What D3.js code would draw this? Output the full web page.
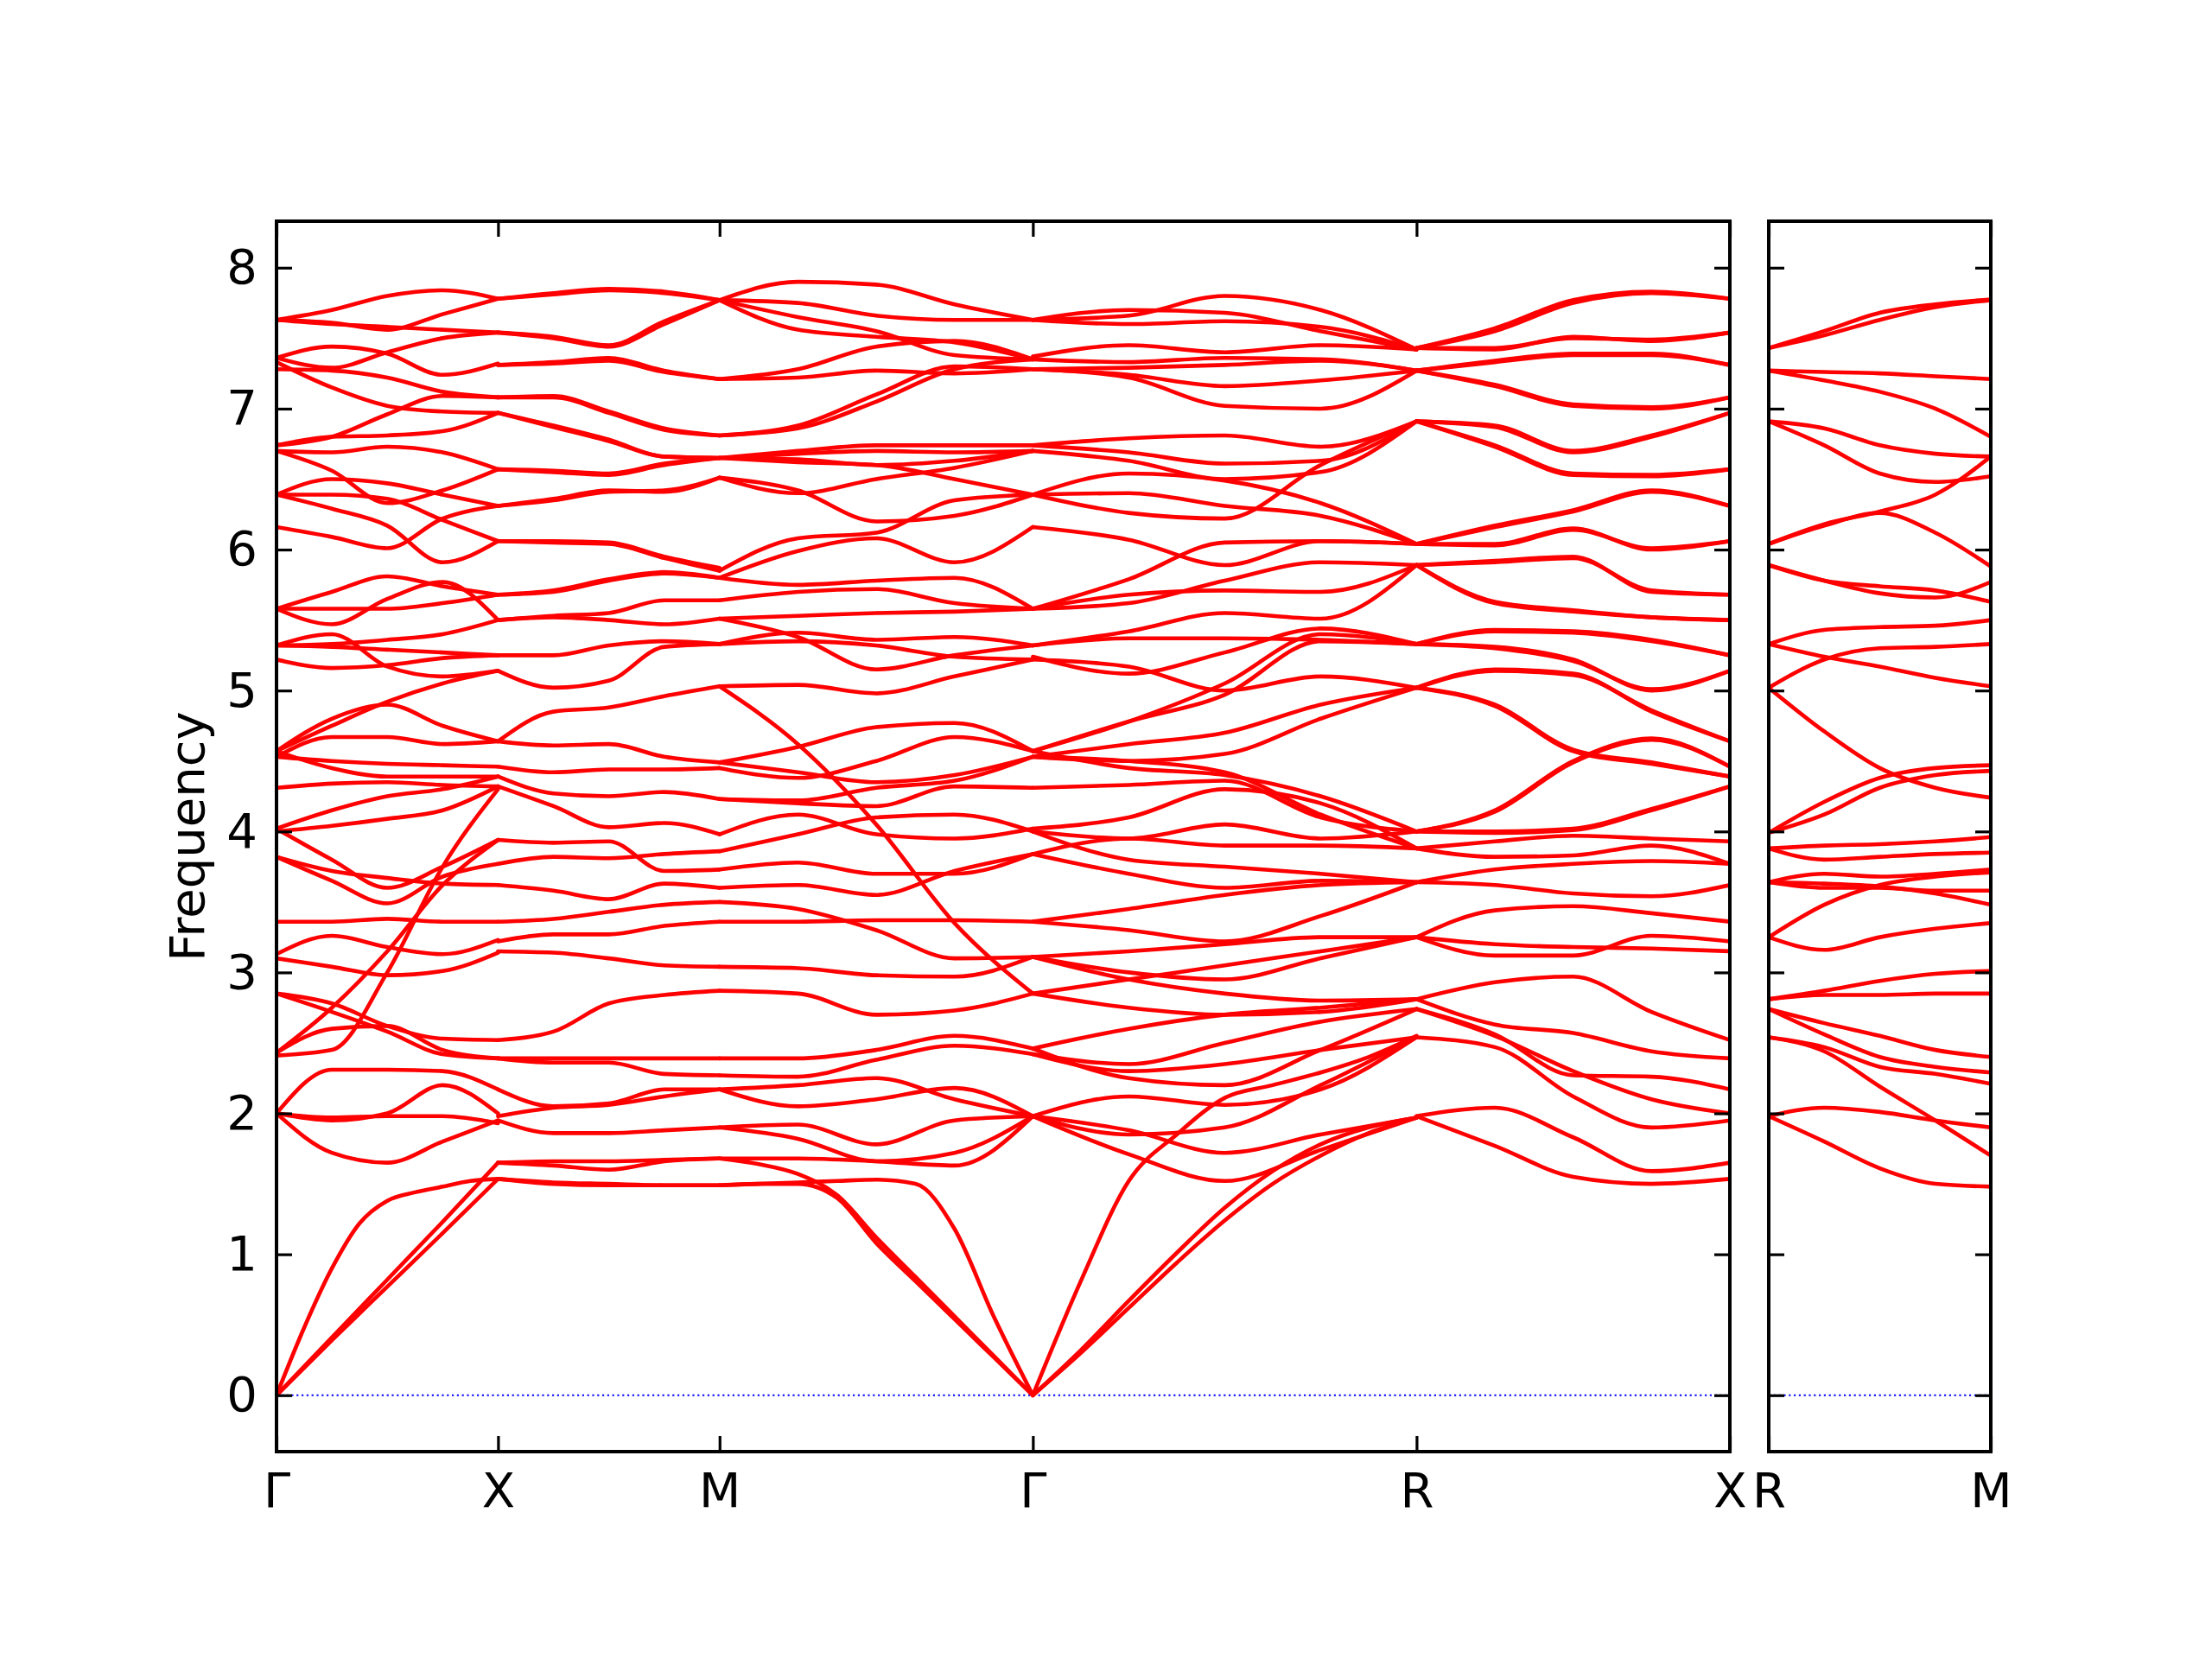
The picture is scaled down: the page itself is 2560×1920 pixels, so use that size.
<!DOCTYPE html>
<html><head><meta charset="utf-8">
<script src="https://cdn.jsdelivr.net/npm/d3@7"></script>
<style>body{margin:0;background:#fff} svg{display:block}</style>
</head><body>
<svg id="chart" width="2560" height="1920"></svg>
<script>
// ---------- DATA ----------
// high-symmetry path (cumulative k-distance) and labels
const mainLabels = ["Γ", "X", "M", "Γ", "R", "X"];
const mainDist = [0, 0.5, 1.0, 1.7071, 2.5731, 3.2802];
const sideLabels = ["R", "M"];
const sideDist = [0, 0.5];
const yTicks = [0, 1, 2, 3, 4, 5, 6, 7, 8];
const yLabel = "Frequency";
// each band: frequencies at evenly spaced k-points along the segment
const bandsGX = [
 [7.63, 7.70, 7.80, 7.84, 7.78],
 [7.63, 7.61, 7.56, 7.67, 7.78],
 [7.63, 7.60, 7.58, 7.56, 7.54],
 [7.36, 7.44, 7.39, 7.24, 7.32],
 [7.36, 7.29, 7.40, 7.50, 7.54],
 [7.28, 7.27, 7.22, 7.12, 7.08],
 [7.33, 7.15, 7.02, 6.98, 6.97],
 [6.74, 6.80, 6.96, 7.09, 7.08],
 [6.74, 6.80, 6.81, 6.84, 6.97],
 [6.70, 6.69, 6.73, 6.69, 6.57],
 [6.70, 6.56, 6.33, 6.42, 6.57],
 [6.39, 6.50, 6.47, 6.39, 6.31],
 [6.39, 6.39, 6.36, 6.21, 6.06],
 [6.39, 6.29, 6.17, 5.91, 6.06],
 [6.16, 6.09, 6.01, 6.22, 6.31],
 [5.58, 5.70, 5.81, 5.74, 5.68],
 [5.58, 5.58, 5.58, 5.62, 5.68],
 [5.58, 5.47, 5.65, 5.77, 5.50],
 [5.32, 5.40, 5.17, 5.10, 5.14],
 [5.32, 5.33, 5.36, 5.40, 5.50],
 [5.32, 5.31, 5.29, 5.27, 5.25],
 [5.22, 5.16, 5.18, 5.23, 5.25],
 [4.57, 4.75, 4.92, 5.05, 5.14],
 [4.57, 4.80, 4.90, 4.75, 4.64],
 [4.53, 4.67, 4.67, 4.62, 4.64],
 [4.53, 4.50, 4.48, 4.47, 4.46],
 [4.57, 4.45, 4.39, 4.39, 4.39],
 [4.31, 4.34, 4.35, 4.33, 4.32],
 [4.02, 4.15, 4.25, 4.30, 4.39],
 [4.00, 4.04, 4.09, 4.15, 4.32],
 [4.02, 3.80, 3.60, 3.75, 3.94],
 [3.82, 3.65, 3.49, 3.68, 3.77],
 [3.82, 3.72, 3.67, 3.63, 3.62],
 [3.36, 3.36, 3.38, 3.36, 3.36],
 [3.13, 3.26, 3.18, 3.13, 3.23],
 [3.10, 3.04, 2.98, 3.01, 3.14],
 [2.85, 2.78, 2.62, 2.53, 2.52],
 [2.85, 2.72, 2.58, 2.42, 2.39],
 [2.43, 2.75, 3.15, 3.62, 3.94],
 [2.41, 2.45, 3.00, 3.75, 4.30],
 [2.43, 2.60, 2.62, 2.45, 2.39],
 [2.00, 2.31, 2.31, 2.30, 2.17],
 [2.00, 1.95, 2.00, 2.20, 2.00],
 [2.00, 1.97, 1.98, 1.98, 1.93],
 [2.00, 1.72, 1.65, 1.80, 1.95],
 [0, 0.48, 0.90, 1.22, 1.38, 1.44, 1.48, 1.52, 1.535],
 [0, 0.41, 0.82, 1.23, 1.65],
 [0, 0.39, 0.77, 1.15, 1.535]
];
const bandsXM = [
 [7.78, 7.82, 7.85, 7.83, 7.77],
 [7.78, 7.81, 7.84, 7.82, 7.77],
 [7.54, 7.51, 7.45, 7.62, 7.77],
 [7.54, 7.50, 7.44, 7.60, 7.77],
 [7.31, 7.33, 7.36, 7.27, 7.21],
 [7.31, 7.32, 7.34, 7.26, 7.21],
 [7.08, 7.09, 6.98, 6.86, 6.81],
 [7.08, 7.08, 6.97, 6.85, 6.81],
 [6.97, 6.88, 6.78, 6.66, 6.65],
 [6.97, 6.87, 6.77, 6.66, 6.65],
 [6.57, 6.55, 6.53, 6.60, 6.65],
 [6.57, 6.56, 6.54, 6.61, 6.65],
 [6.31, 6.36, 6.42, 6.41, 6.51],
 [6.31, 6.35, 6.41, 6.42, 6.51],
 [6.06, 6.06, 6.05, 5.95, 5.87],
 [6.06, 6.05, 6.04, 5.94, 5.85],
 [5.68, 5.71, 5.79, 5.84, 5.80],
 [5.68, 5.70, 5.78, 5.83, 5.80],
 [5.50, 5.53, 5.55, 5.64, 5.64],
 [5.50, 5.52, 5.50, 5.47, 5.51],
 [5.25, 5.25, 5.32, 5.35, 5.33],
 [5.14, 5.02, 5.07, 5.31, 5.33],
 [4.64, 4.85, 4.88, 4.96, 5.03],
 [4.64, 4.61, 4.62, 4.53, 4.49],
 [4.46, 4.42, 4.44, 4.44, 4.45],
 [4.39, 4.27, 4.25, 4.28, 4.23],
 [4.32, 4.18, 4.03, 4.06, 3.98],
 [3.94, 3.92, 3.93, 3.72, 3.73],
 [3.77, 3.82, 3.81, 3.84, 3.86],
 [3.62, 3.58, 3.52, 3.63, 3.60],
 [3.36, 3.38, 3.43, 3.48, 3.50],
 [3.22, 3.27, 3.27, 3.33, 3.36],
 [3.15, 3.14, 3.10, 3.05, 3.04],
 [2.52, 2.58, 2.78, 2.84, 2.87],
 [2.39, 2.39, 2.39, 2.39, 2.39],
 [2.39, 2.36, 2.36, 2.28, 2.27],
 [2.17, 2.05, 2.07, 2.17, 2.17],
 [1.98, 2.04, 2.06, 2.12, 2.17],
 [1.95, 1.86, 1.86, 1.88, 1.90],
 [1.65, 1.63, 1.60, 1.66, 1.68],
 [1.65, 1.66, 1.66, 1.67, 1.68],
 [1.535, 1.50, 1.49, 1.49, 1.49],
 [1.535, 1.51, 1.50, 1.49, 1.49]
];
const bandsMG = [
 [7.77, 7.90, 7.88, 7.74, 7.63],
 [7.77, 7.75, 7.66, 7.63, 7.63],
 [7.77, 7.56, 7.51, 7.47, 7.35],
 [7.77, 7.65, 7.55, 7.38, 7.35],
 [7.21, 7.22, 7.27, 7.25, 7.28],
 [7.21, 7.28, 7.44, 7.48, 7.35],
 [6.81, 6.86, 7.05, 7.28, 7.35],
 [6.81, 6.88, 7.10, 7.30, 7.28],
 [6.65, 6.70, 6.74, 6.74, 6.74],
 [6.65, 6.64, 6.60, 6.63, 6.70],
 [6.65, 6.68, 6.70, 6.69, 6.70],
 [6.65, 6.62, 6.60, 6.50, 6.39],
 [6.51, 6.40, 6.50, 6.58, 6.70],
 [6.51, 6.42, 6.20, 6.24, 6.39],
 [5.85, 6.08, 6.12, 6.35, 6.39],
 [5.80, 5.99, 6.08, 5.91, 6.16],
 [5.80, 5.75, 5.78, 5.80, 5.58],
 [5.64, 5.70, 5.72, 5.62, 5.58],
 [5.51, 5.53, 5.55, 5.56, 5.58],
 [5.51, 5.38, 5.15, 5.25, 5.32],
 [5.33, 5.35, 5.32, 5.24, 5.22],
 [5.33, 5.41, 5.36, 5.38, 5.32],
 [5.03, 5.04, 4.98, 5.10, 5.22],
 [5.03, 4.62, 4.05, 3.35, 2.85],
 [4.49, 4.60, 4.74, 4.77, 4.57],
 [4.45, 4.38, 4.50, 4.67, 4.57],
 [4.23, 4.22, 4.31, 4.36, 4.53],
 [4.49, 4.42, 4.35, 4.40, 4.53],
 [4.23, 4.20, 4.18, 4.32, 4.31],
 [3.98, 4.12, 3.98, 3.95, 4.02],
 [3.86, 3.98, 4.10, 4.12, 4.00],
 [3.73, 3.78, 3.70, 3.70, 3.84],
 [3.60, 3.62, 3.55, 3.72, 3.84],
 [3.50, 3.45, 3.30, 3.10, 3.11],
 [3.36, 3.36, 3.37, 3.37, 3.36],
 [3.04, 3.03, 2.98, 2.97, 3.11],
 [2.87, 2.85, 2.70, 2.73, 2.85],
 [2.39, 2.39, 2.45, 2.55, 2.46],
 [2.27, 2.26, 2.38, 2.48, 2.42],
 [2.17, 2.05, 2.10, 2.18, 1.98],
 [2.17, 2.20, 2.25, 2.10, 1.98],
 [1.90, 1.92, 1.78, 1.95, 1.98],
 [1.90, 1.82, 1.66, 1.72, 1.98],
 [1.68, 1.68, 1.66, 1.63, 1.98],
 [1.49, 1.50, 1.51, 1.52, 1.53, 1.50, 1.18, 0.56, 0],
 [1.68, 1.64, 1.57, 1.42, 1.12, 0.84, 0.56, 0.28, 0],
 [1.49, 1.50, 1.50, 1.40, 1.08, 0.81, 0.54, 0.27, 0]
];
const bandsGR = [
 [7.63, 7.66, 7.80, 7.70, 7.42],
 [7.63, 7.70, 7.68, 7.55, 7.42],
 [7.63, 7.60, 7.62, 7.58, 7.42],
 [7.37, 7.45, 7.40, 7.45, 7.42],
 [7.35, 7.33, 7.36, 7.35, 7.27],
 [7.28, 7.29, 7.31, 7.34, 7.27],
 [7.28, 7.24, 7.16, 7.20, 7.27],
 [7.28, 7.22, 7.02, 7.00, 7.27],
 [6.74, 6.79, 6.81, 6.73, 6.91],
 [6.74, 6.69, 6.61, 6.63, 6.91],
 [6.70, 6.63, 6.50, 6.55, 6.91],
 [6.39, 6.26, 6.22, 6.60, 6.91],
 [6.39, 6.54, 6.49, 6.33, 6.04],
 [6.39, 6.40, 6.31, 6.24, 6.04],
 [6.16, 6.07, 5.89, 6.06, 6.04],
 [5.58, 5.79, 6.05, 6.06, 6.04],
 [5.58, 5.62, 5.78, 5.91, 5.89],
 [5.58, 5.68, 5.71, 5.70, 5.89],
 [5.32, 5.42, 5.55, 5.51, 5.89],
 [5.32, 5.37, 5.37, 5.36, 5.33],
 [5.24, 5.12, 5.27, 5.44, 5.33],
 [4.57, 4.78, 4.97, 5.35, 5.33],
 [4.57, 4.78, 5.05, 5.40, 5.33],
 [5.22, 5.17, 5.00, 5.10, 5.02],
 [4.53, 4.62, 4.70, 4.90, 5.02],
 [4.53, 4.50, 4.55, 4.80, 5.02],
 [4.57, 4.45, 4.40, 4.25, 4.00],
 [4.53, 4.50, 4.42, 4.12, 3.88],
 [4.31, 4.33, 4.36, 4.10, 4.00],
 [4.02, 4.10, 4.30, 4.20, 3.88],
 [4.00, 3.95, 4.05, 3.95, 4.00],
 [3.84, 3.95, 3.90, 3.90, 3.88],
 [3.84, 3.70, 3.60, 3.65, 3.64],
 [4.00, 3.80, 3.75, 3.70, 3.64],
 [3.36, 3.45, 3.55, 3.62, 3.64],
 [3.36, 3.30, 3.22, 3.40, 3.64],
 [3.11, 3.15, 3.20, 3.25, 3.25],
 [3.11, 3.00, 2.95, 3.10, 3.25],
 [2.85, 2.95, 3.05, 3.15, 3.25],
 [3.11, 2.95, 2.85, 2.80, 2.81],
 [2.85, 2.75, 2.70, 2.72, 2.81],
 [2.46, 2.60, 2.70, 2.75, 2.81],
 [2.42, 2.35, 2.50, 2.65, 2.74],
 [2.46, 2.25, 2.20, 2.45, 2.74],
 [2.42, 2.30, 2.35, 2.45, 2.54],
 [1.98, 2.12, 2.06, 2.17, 2.54],
 [1.98, 1.85, 1.90, 2.20, 2.54],
 [1.98, 1.71, 1.52, 1.74, 1.97],
 [1.98, 1.88, 1.72, 1.85, 1.97],
 [0, 0.81, 1.52, 1.85, 2.11, 2.20, 2.29, 2.40, 2.55],
 [0, 0.32, 0.67, 1.01, 1.33, 1.59, 1.78, 1.90, 1.97],
 [0, 0.30, 0.62, 0.94, 1.24, 1.50, 1.70, 1.86, 1.97]
];
const bandsRX = [
 [7.43, 7.57, 7.77, 7.83, 7.78],
 [7.43, 7.55, 7.75, 7.82, 7.78],
 [7.43, 7.42, 7.51, 7.48, 7.54],
 [7.43, 7.43, 7.50, 7.49, 7.54],
 [7.27, 7.34, 7.39, 7.39, 7.31],
 [7.27, 7.33, 7.38, 7.38, 7.31],
 [7.27, 7.17, 7.03, 7.01, 7.08],
 [7.27, 7.16, 7.02, 7.00, 7.08],
 [6.91, 6.88, 6.70, 6.81, 6.97],
 [6.91, 6.87, 6.69, 6.80, 6.97],
 [6.91, 6.74, 6.54, 6.53, 6.57],
 [6.91, 6.73, 6.53, 6.52, 6.57],
 [6.04, 6.17, 6.28, 6.42, 6.31],
 [6.04, 6.16, 6.27, 6.41, 6.31],
 [6.04, 6.04, 6.15, 6.00, 6.06],
 [6.04, 6.03, 6.14, 6.01, 6.06],
 [5.89, 5.92, 5.95, 5.70, 5.68],
 [5.89, 5.91, 5.94, 5.71, 5.68],
 [5.89, 5.63, 5.57, 5.52, 5.50],
 [5.89, 5.62, 5.56, 5.52, 5.50],
 [5.33, 5.43, 5.42, 5.36, 5.25],
 [5.33, 5.42, 5.41, 5.35, 5.25],
 [5.33, 5.31, 5.22, 5.00, 5.14],
 [5.33, 5.30, 5.21, 5.01, 5.14],
 [5.02, 5.15, 5.12, 4.85, 4.64],
 [5.02, 5.14, 5.11, 4.86, 4.64],
 [5.02, 4.90, 4.58, 4.49, 4.39],
 [5.02, 4.89, 4.57, 4.48, 4.39],
 [4.00, 4.15, 4.50, 4.66, 4.46],
 [4.00, 4.14, 4.49, 4.65, 4.46],
 [4.00, 3.99, 4.01, 4.15, 4.32],
 [4.00, 4.00, 4.02, 4.16, 4.32],
 [3.88, 3.93, 3.97, 3.95, 3.93],
 [3.88, 3.82, 3.83, 3.90, 3.77],
 [3.64, 3.73, 3.77, 3.79, 3.77],
 [3.64, 3.62, 3.56, 3.54, 3.62],
 [3.25, 3.44, 3.47, 3.42, 3.36],
 [3.25, 3.12, 3.12, 3.26, 3.22],
 [3.25, 3.20, 3.18, 3.17, 3.15],
 [2.81, 2.93, 2.97, 2.72, 2.52],
 [2.81, 2.63, 2.57, 2.44, 2.39],
 [2.74, 2.55, 2.30, 2.10, 2.00],
 [2.74, 2.56, 2.27, 2.26, 2.17],
 [2.54, 2.47, 2.12, 1.90, 1.95],
 [1.98, 2.04, 1.83, 1.59, 1.65],
 [1.98, 1.77, 1.55, 1.50, 1.535]
];
const bandsRM = [
 [7.43, 7.55, 7.68, 7.74, 7.775],
 [7.43, 7.52, 7.63, 7.72, 7.77],
 [7.27, 7.26, 7.25, 7.23, 7.21],
 [7.27, 7.20, 7.12, 7.00, 6.80],
 [6.91, 6.86, 6.74, 6.68, 6.66],
 [6.91, 6.74, 6.54, 6.48, 6.52],
 [6.04, 6.18, 6.27, 6.39, 6.66],
 [6.04, 6.17, 6.26, 6.12, 5.88],
 [5.89, 5.78, 5.69, 5.66, 5.77],
 [5.89, 5.78, 5.74, 5.71, 5.63],
 [5.33, 5.43, 5.45, 5.46, 5.50],
 [5.33, 5.24, 5.17, 5.09, 5.03],
 [5.02, 5.22, 5.30, 5.31, 5.33],
 [5.02, 4.71, 4.45, 4.31, 4.24],
 [3.99, 4.21, 4.38, 4.45, 4.47],
 [3.99, 4.12, 4.31, 4.40, 4.43],
 [3.88, 3.90, 3.91, 3.93, 3.96],
 [3.88, 3.80, 3.82, 3.84, 3.85],
 [3.64, 3.70, 3.68, 3.70, 3.73],
 [3.64, 3.63, 3.61, 3.56, 3.48],
 [3.64, 3.60, 3.60, 3.58, 3.58],
 [3.25, 3.48, 3.62, 3.68, 3.71],
 [3.25, 3.16, 3.25, 3.31, 3.35],
 [2.81, 2.87, 2.94, 2.99, 3.01],
 [2.81, 2.84, 2.84, 2.85, 2.85],
 [2.74, 2.64, 2.55, 2.45, 2.40],
 [2.74, 2.56, 2.40, 2.33, 2.29],
 [2.54, 2.47, 2.33, 2.28, 2.21],
 [2.54, 2.44, 2.19, 1.95, 1.70],
 [1.98, 2.04, 2.01, 1.95, 1.90],
 [1.98, 1.80, 1.61, 1.50, 1.48]
];

// ---------- DRAW ----------
const svg = d3.select("#chart");
svg.append("rect").attr("width", 2560).attr("height", 1920).attr("fill", "#fff");
const plotTop = 256, plotBottom = 1680;
const FONT = "'DejaVu Sans', sans-serif", FS = 56;
const y = d3.scaleLinear().domain([-0.4, 8.33]).range([plotBottom, plotTop]);

const panels = [
  {x0: 320, x1: 2002, dist: mainDist, labels: mainLabels, segs: [bandsGX, bandsXM, bandsMG, bandsGR, bandsRX], showY: true},
  {x0: 2047, x1: 2304, dist: sideDist, labels: sideLabels, segs: [bandsRM], showY: false}
];

panels.forEach((p, pi) => {
  const x = d3.scaleLinear().domain([p.dist[0], p.dist[p.dist.length - 1]]).range([p.x0, p.x1]);
  const clipId = "clip" + pi;
  svg.append("clipPath").attr("id", clipId).append("rect")
    .attr("x", p.x0).attr("y", plotTop).attr("width", p.x1 - p.x0).attr("height", plotBottom - plotTop);
  const g = svg.append("g").attr("clip-path", `url(#${clipId})`);
  g.append("line").attr("x1", p.x0).attr("x2", p.x1).attr("y1", y(0)).attr("y2", y(0))
    .attr("stroke", "#0000ff").attr("stroke-width", 2.2).attr("stroke-dasharray", "2.2,3.6");
  const line = d3.line().x(d => x(d[0])).y(d => y(d[1])).curve(d3.curveMonotoneX);
  p.segs.forEach((seg, si) => {
    const k0 = p.dist[si], k1 = p.dist[si + 1];
    seg.forEach(b => {
      const pts = b.map((v, i) => [k0 + (k1 - k0) * i / (b.length - 1), v]);
      g.append("path").attr("d", line(pts)).attr("fill", "none")
        .attr("stroke", "#ff0000").attr("stroke-width", 4.6).attr("stroke-linejoin", "round").attr("stroke-linecap", "round");
    });
  });

  const styleAxis = (sel) => {
    sel.select(".domain").remove();
    sel.selectAll(".tick line").attr("stroke", "#000").attr("stroke-width", 3.2);
    sel.selectAll(".tick text").attr("fill", "#000").style("font-family", FONT).style("font-size", FS + "px");
  };
  const yl = svg.append("g").attr("transform", `translate(${p.x0},0)`)
    .call(d3.axisLeft(y).tickValues(yTicks).tickSize(-18).tickPadding(22)
      .tickFormat(p.showY ? d3.format("d") : () => ""));
  styleAxis(yl);
  const yr = svg.append("g").attr("transform", `translate(${p.x1},0)`)
    .call(d3.axisRight(y).tickValues(yTicks).tickSize(-18).tickFormat(() => ""));
  styleAxis(yr);
  const xb = svg.append("g").attr("transform", `translate(0,${plotBottom})`)
    .call(d3.axisBottom(x).tickValues(p.dist).tickSize(-18).tickPadding(24)
      .tickFormat((d, i) => p.labels[i]));
  styleAxis(xb);
  const xt = svg.append("g").attr("transform", `translate(0,${plotTop})`)
    .call(d3.axisTop(x).tickValues(p.dist).tickSize(-18).tickFormat(() => ""));
  styleAxis(xt);
  svg.append("rect").attr("x", p.x0).attr("y", plotTop).attr("width", p.x1 - p.x0).attr("height", plotBottom - plotTop)
    .attr("fill", "none").attr("stroke", "#000").attr("stroke-width", 4);
});

svg.append("text").attr("transform", `translate(236,${(plotTop + plotBottom) / 2}) rotate(-90)`)
  .attr("text-anchor", "middle").style("font-family", FONT).style("font-size", FS + "px").text(yLabel);
</script>
</body></html>
